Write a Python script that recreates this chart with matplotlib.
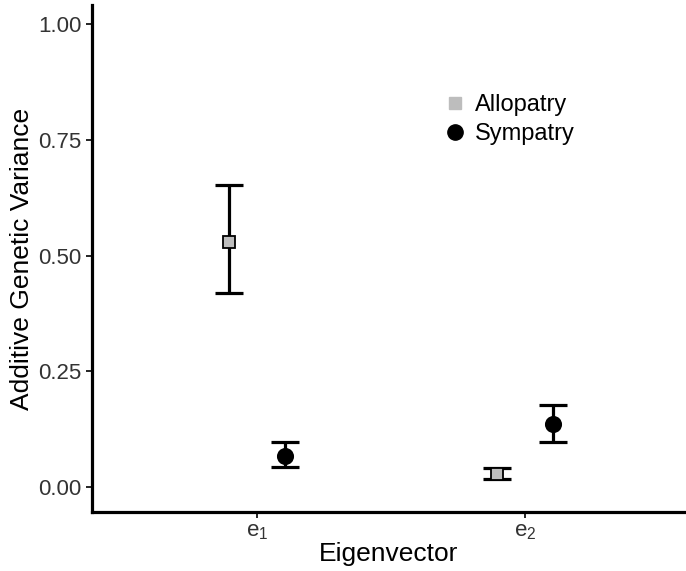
import matplotlib
matplotlib.use('Agg')
import matplotlib.pyplot as plt
import numpy as np

plt.rcParams['font.family'] = ['Liberation Sans', 'DejaVu Sans']
plt.rcParams['mathtext.default'] = 'regular'

# Estimates per eigenvector, with interval bounds
eigenvectors = ['e$_1$', 'e$_2$']
allopatry_mean = [0.530, 0.028]
allopatry_low = [0.420, 0.017]
allopatry_high = [0.652, 0.041]
sympatry_mean = [0.068, 0.136]
sympatry_low = [0.043, 0.098]
sympatry_high = [0.097, 0.178]

x = np.arange(1, len(eigenvectors) + 1)
dodge = 0.105

fig = plt.figure(figsize=(6.86, 5.71), dpi=100)
ax = fig.add_axes([0.134, 0.103, 0.866, 0.888])

def draw(xs, mean, low, high, marker, color, size, label):
    mean = np.array(mean)
    yerr = [mean - np.array(low), np.array(high) - mean]
    ax.errorbar(xs, mean, yerr=yerr, fmt='none', ecolor='black',
                elinewidth=2.3, capsize=10, capthick=2.3, zorder=2)
    ax.plot(xs, mean, linestyle='none', marker=marker, markersize=size,
            markerfacecolor=color, markeredgecolor='black',
            markeredgewidth=1.3, zorder=3)
    # legend handle without outline, like the key
    ax.plot([], [], linestyle='none', marker=marker, markersize=size,
            color=color, label=label)

draw(x - dodge, allopatry_mean, allopatry_low, allopatry_high,
     's', '#bdbdbd', 8.5, 'Allopatry')
draw(x + dodge, sympatry_mean, sympatry_low, sympatry_high,
     'o', 'black', 11, 'Sympatry')

ax.set_xlim(0.384, 2.6)
ax.set_ylim(-0.054, 1.041)
ax.set_xticks(x)
ax.set_xticklabels(eigenvectors)
ax.set_yticks([0, 0.25, 0.5, 0.75, 1.0])
ax.set_yticklabels(['0.00', '0.25', '0.50', '0.75', '1.00'])
ax.tick_params(labelsize=16, colors='black', length=4, width=1.2,
               labelcolor='#333333')
ax.tick_params(axis='x', pad=2)

for side in ['top', 'right']:
    ax.spines[side].set_visible(False)
for side in ['left', 'bottom']:
    ax.spines[side].set_linewidth(2.3)

ax.set_xlabel('Eigenvector', fontsize=19, labelpad=0)
ax.set_ylabel('Additive Genetic Variance', fontsize=19, labelpad=3)

ax.legend(loc='upper left', bbox_to_anchor=(0.571, 0.848), frameon=False,
          fontsize=17, handletextpad=0.35, labelspacing=0.3,
          handlelength=1.0, borderpad=0)

fig.savefig('out.png', dpi=100)
